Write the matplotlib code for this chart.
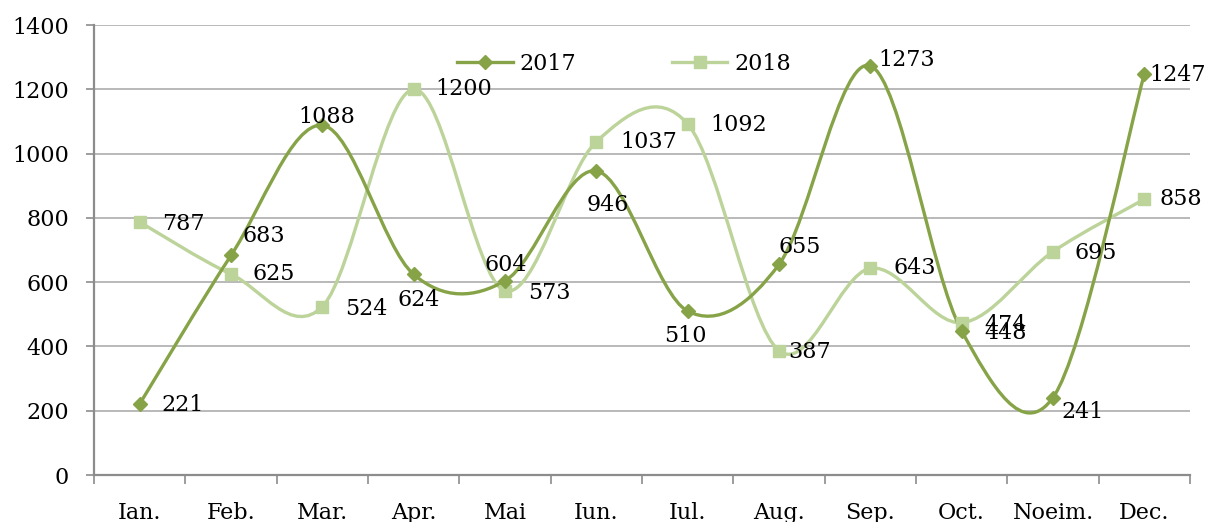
import numpy as np
import matplotlib
matplotlib.use("Agg")
import matplotlib.pyplot as plt
from matplotlib.path import Path
from matplotlib.patches import PathPatch

months = ["Ian.", "Feb.", "Mar.", "Apr.", "Mai", "Iun.", "Iul.", "Aug.",
          "Sep.", "Oct.", "Noeim.", "Dec."]
v2017 = [221, 683, 1088, 624, 604, 946, 510, 655, 1273, 448, 241, 1247]
v2018 = [787, 625, 524, 1200, 573, 1037, 1092, 387, 643, 474, 695, 858]

# label offsets in pixels (dx, dy) relative to each point, left-aligned text
off2017 = [(22, -1), (12, 19), (-24, 8), (-16, -26), (-20, 16), (-10, -34),
           (-24, -25), (-1, 17), (8, 6), (23, -2), (8, -14), (5, -1)]
off2018 = [(22, -2), (22, 0), (23, -2), (22, 0), (23, -2), (24, 0),
           (23, -1), (9, -1), (23, 0), (23, -2), (22, -1), (15, 0)]

c2017 = "#86A447"
c2018 = "#BCD39A"
plt.rcParams["font.family"] = "DejaVu Serif"

DPI = 100
fig = plt.figure(figsize=(12.06, 5.22), dpi=DPI)
ax = fig.add_axes([94 / 1206, 47 / 522, 1096 / 1206, 450 / 522])

x = np.arange(1, 13)


def smooth_path(xs, ys):
    # Catmull-Rom style cubic bezier through all points
    pts = np.column_stack([xs, ys]).astype(float)
    n = len(pts)
    verts = [pts[0]]
    codes = [Path.MOVETO]
    for i in range(n - 1):
        p0 = pts[i - 1] if i > 0 else pts[i]
        p1 = pts[i]
        p2 = pts[i + 1]
        p3 = pts[i + 2] if i + 2 < n else pts[i + 1]
        c1 = p1 + (p2 - p0) / 6.0
        c2 = p2 - (p3 - p1) / 6.0
        verts += [c1, c2, p2]
        codes += [Path.CURVE4] * 3
    return Path(verts, codes)


for vals, col, mk, ms in [(v2018, c2018, "s", 9), (v2017, c2017, "D", 7)]:
    ax.add_patch(PathPatch(smooth_path(x, vals), facecolor="none",
                           edgecolor=col, lw=2.4, zorder=3,
                           capstyle="round", joinstyle="round"))
    ax.plot(x, vals, ls="none", marker=mk, ms=ms, color=col, zorder=4)

for vals, offs in [(v2017, off2017), (v2018, off2018)]:
    for xi, v, (dx, dy) in zip(x, vals, offs):
        ax.annotate(str(v), (xi, v), xytext=(dx * 72 / DPI, dy * 72 / DPI),
                    textcoords="offset points", ha="left", va="center",
                    fontsize=16, color="black", zorder=5)

# legend handles
h1, = ax.plot([], [], color=c2017, lw=2.4, marker="D", ms=7)
h2, = ax.plot([], [], color=c2018, lw=2.4, marker="s", ms=9)
ax.legend([h1, h2], ["2017", "2018"], ncol=2, frameon=False,
          loc="upper left", bbox_to_anchor=(0.3235, 0.958),
          fontsize=16, handlelength=2.5, handletextpad=0.3,
          columnspacing=4.3, borderaxespad=0)

ax.set_xlim(0.5, 12.5)
ax.set_ylim(0, 1400)
ax.set_yticks(range(0, 1401, 200))
ax.yaxis.grid(True, color="#A6A6A6", lw=1.1)
ax.set_axisbelow(True)

ax.set_xticks(np.arange(0.5, 12.6, 1))
ax.set_xticklabels([])
ax.set_xticks(x, minor=True)
ax.set_xticklabels(months, minor=True)
ax.tick_params(axis="x", which="major", length=6.5, width=1.2, color="#8C8C8C")
ax.tick_params(axis="x", which="minor", length=0, pad=19.5, labelsize=16)
ax.tick_params(axis="y", length=6, width=1.2, color="#8C8C8C", pad=12,
               labelsize=16)

for s in ["top", "right"]:
    ax.spines[s].set_visible(False)
for s in ["left", "bottom"]:
    ax.spines[s].set_color("#8C8C8C")
    ax.spines[s].set_linewidth(1.6)

fig.savefig("out.png", dpi=DPI)
